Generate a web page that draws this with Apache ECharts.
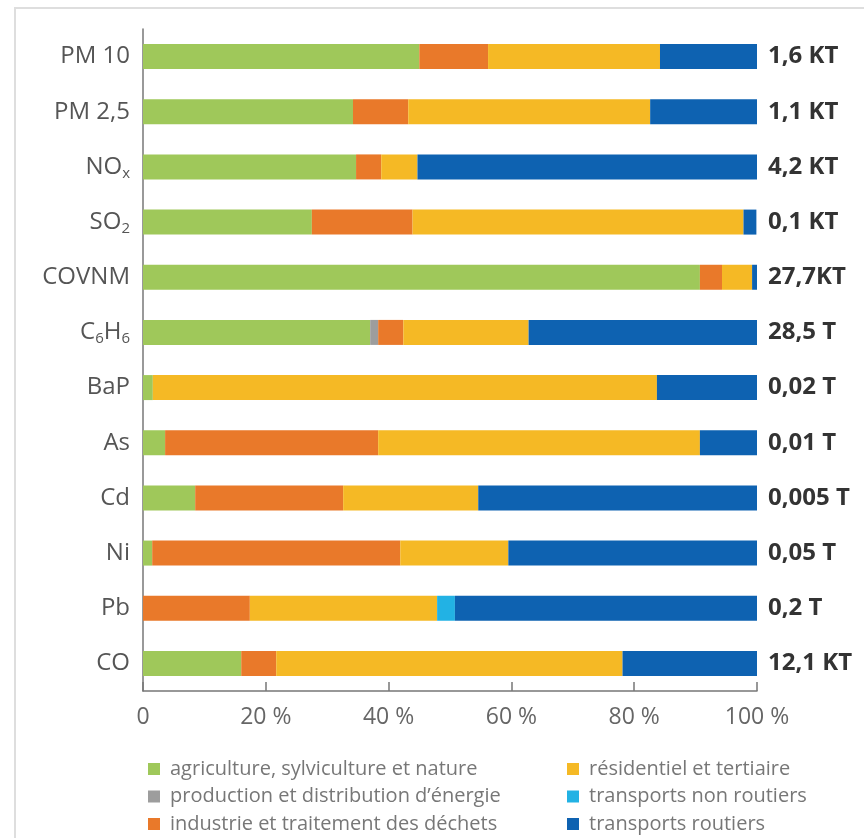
<!DOCTYPE html>
<html>
<head>
<meta charset="utf-8">
<script src="https://cdn.jsdelivr.net/npm/echarts@6/dist/echarts.min.js"></script>
<style>
html,body{margin:0;padding:0;background:#fff;}
#chart{width:864px;height:838px;}
</style>
</head>
<body>
<div id="chart"></div>
<script>
const categories = ['PM 10','PM 2,5','NOx','SO2','COVNM','C6H6','BaP','As','Cd','Ni','Pb','CO'];
const totals = ['1,6 KT','1,1 KT','4,2 KT','0,1 KT','27,7KT','28,5 T','0,02 T','0,01 T','0,005 T','0,05 T','0,2 T','12,1 KT'];
const xTicks = [0, 20, 40, 60, 80, 100];

const seriesNames = [
  'agriculture, sylviculture et nature',
  'production et distribution d\u2019énergie',
  'industrie et traitement des déchets',
  'résidentiel et tertiaire',
  'transports non routiers',
  'transports routiers'
];
const agriculture = [45.0, 34.2, 34.7, 27.5, 90.7, 37.0, 1.6, 3.6, 8.5, 1.5, 0, 16.0];
const energie     = [0, 0, 0, 0, 0, 1.3, 0, 0, 0, 0, 0, 0];
const industrie   = [11.2, 9.0, 4.1, 16.4, 3.6, 4.1, 0, 34.7, 24.1, 40.4, 17.4, 5.7];
const residentiel = [28.0, 39.4, 5.9, 53.9, 4.9, 20.4, 82.1, 52.4, 22.0, 17.6, 30.5, 56.4];
const nonRoutier  = [0, 0, 0, 0, 0, 0, 0, 0, 0, 0, 2.9, 0];
const routier     = [15.8, 17.4, 55.3, 2.1, 0.8, 37.2, 16.3, 9.3, 45.4, 40.5, 49.2, 21.9];

const values = [agriculture, energie, industrie, residentiel, nonRoutier, routier];
const colors = ['#9fc85a', '#9d9d9d', '#e9792a', '#f5b925', '#22b2e4', '#0e62b1'];

const FONT = 'Open Sans';
const subMap = {'NOx': 'NO{s|x}', 'SO2': 'SO{s|2}', 'C6H6': 'C{s|6}H{s|6}'};

const legendBase = {
  orient: 'vertical', top: 754, itemGap: 7.5, height: 84,
  itemWidth: 12, itemHeight: 12, icon: 'rect',
  textStyle: {color: '#777', fontSize: 20, lineHeight: 20, fontFamily: FONT, padding: [0, 0, 0, 5]}
};

const chart = echarts.init(document.getElementById('chart'));
chart.setOption({
  animation: false,
  backgroundColor: '#fff',
  graphic: [{
    type: 'rect', z: -10,
    shape: {x: 15, y: 8, width: 900, height: 900},
    style: {fill: '#fff', stroke: '#dedede', lineWidth: 2}
  }],
  grid: {left: 143, right: 107, top: 29, height: 662, containLabel: false},
  xAxis: {
    type: 'value', min: 0, max: 100, interval: 20,
    axisLine: {show: true, lineStyle: {color: '#777', width: 1.5}},
    axisTick: {show: true, inside: true, length: 9, lineStyle: {color: '#777', width: 1.5}},
    splitLine: {show: false},
    axisLabel: {
      margin: 15, color: '#666', fontSize: 23, fontFamily: FONT,
      formatter: v => xTicks.includes(v) ? (v === 0 ? '0' : v + ' %') : ''
    }
  },
  yAxis: [{
    type: 'category', data: categories, inverse: true,
    axisLine: {show: true, lineStyle: {color: '#777', width: 1.5}},
    axisTick: {show: false},
    axisLabel: {
      margin: 13, color: '#555', fontSize: 24, fontFamily: FONT,
      formatter: v => subMap[v] || v,
      rich: {s: {fontSize: 15, color: '#555', fontFamily: FONT, padding: [13, 0, 0, 0]}}
    }
  }, {
    type: 'category', data: totals, inverse: true, position: 'right',
    axisLine: {show: false}, axisTick: {show: false},
    axisLabel: {margin: 11, color: '#333', fontSize: 24, fontWeight: 'bold', fontFamily: FONT}
  }],
  legend: [
    Object.assign({}, legendBase, {left: 143, data: seriesNames.slice(0, 3)}),
    Object.assign({}, legendBase, {left: 562, data: seriesNames.slice(3)})
  ],
  series: seriesNames.map((name, i) => ({
    name, type: 'bar', stack: 'total', data: values[i],
    barWidth: 25, itemStyle: {color: colors[i]},
    emphasis: {disabled: true}
  }))
});
</script>
</body>
</html>
